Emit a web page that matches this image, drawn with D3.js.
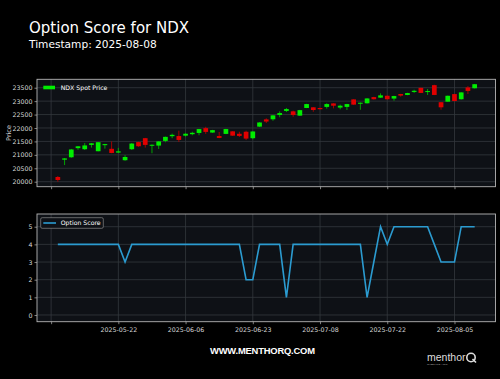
<!DOCTYPE html>
<html>
<head>
<meta charset="utf-8">
<script src="https://cdn.jsdelivr.net/npm/d3@7"></script>
<style>
html,body{margin:0;padding:0;background:#000;}
svg{display:block;font-family:"DejaVu Sans",sans-serif;}
</style>
</head>
<body>
<svg id="chart" width="500" height="379"></svg>
<script>
// ---- data ----
const dates = [
 "2025-05-09","2025-05-12","2025-05-13","2025-05-14","2025-05-15","2025-05-16","2025-05-19","2025-05-20","2025-05-21","2025-05-22",
 "2025-05-23","2025-05-27","2025-05-28","2025-05-29","2025-05-30","2025-06-02","2025-06-03","2025-06-04","2025-06-05","2025-06-06",
 "2025-06-09","2025-06-10","2025-06-11","2025-06-12","2025-06-13","2025-06-16","2025-06-17","2025-06-18","2025-06-20","2025-06-23",
 "2025-06-24","2025-06-25","2025-06-26","2025-06-27","2025-06-30","2025-07-01","2025-07-02","2025-07-03","2025-07-07","2025-07-08",
 "2025-07-09","2025-07-10","2025-07-11","2025-07-14","2025-07-15","2025-07-16","2025-07-17","2025-07-18","2025-07-21","2025-07-22",
 "2025-07-23","2025-07-24","2025-07-25","2025-07-28","2025-07-29","2025-07-30","2025-07-31","2025-08-01","2025-08-04","2025-08-05",
 "2025-08-06","2025-08-07","2025-08-08"];
const open  = [20175,20820,20910,21250,21210,21370,21135,21360,21225,21085,20800,21210,21475,21620,21345,21345,21520,21695,21700,21715,
 21770,21815,21995,21830,21700,21780,21875,21785,21860,21620,22050,22320,22325,22485,22635,22620,22460,22745,22770,22745,
 22785,22915,22760,22785,23065,22905,22920,23150,23130,23200,23095,23265,23230,23342,23495,23342,23595,22960,22980,23262,
 23070,23510,23480];
const high  = [20212,20880,21220,21325,21440,21440,21480,21410,21500,21260,20990,21440,21490,21630,21390,21510,21680,21790,21900,21810,
 21860,21965,22045,21930,21850,21970,21880,21860,21900,21880,22215,22360,22475,22620,22745,22645,22675,22900,22775,22750,
 22920,22920,22870,22900,23070,22950,23110,23160,23290,23210,23200,23270,23310,23425,23500,23450,23610,22965,23205,23270,
 23330,23560,23640];
const low   = [20000,20620,20890,21190,21180,21270,21130,21230,21060,21075,20780,21180,21300,21270,21060,21220,21470,21620,21480,21680,
 21730,21730,21780,21820,21620,21770,21705,21665,21550,21580,22040,22185,22270,22400,22595,22420,22450,22740,22605,22690,
 22720,22730,22695,22670,22860,22680,22910,23060,23120,23060,23015,23165,23220,23305,23300,23230,23225,22680,22975,22990,
 23060,23265,23470];
const close = [20063,20867,21200,21318,21350,21430,21470,21400,21070,21130,20920,21420,21320,21370,21375,21500,21670,21745,21555,21785,
 21820,21960,21855,21920,21630,21960,21715,21705,21605,21870,22205,22240,22470,22555,22705,22485,22665,22890,22670,22700,
 22890,22830,22830,22890,22870,22940,23100,23070,23215,23070,23190,23205,23300,23385,23305,23375,23230,22770,23200,23005,
 23325,23380,23630];
const optionScore = [4,4,4,4,4,4,4,4,4,4, 3, 4,4,4,4,4,4,4,4,4,4,4,4,4,4,4,4,4, 2,2, 4,4,4,4, 1,
 4,4,4,4,4,4,4,4,4,4,4, 1,3,5,4, 5,5,5,5,5,5, 4, 3,3,3, 5,5,5];
const xTickIdx = [-1,9,19,29,39,49,59];
const priceTicks = [20000,20500,21000,21500,22000,22500,23000,23500];
const scoreTicks = [0,1,2,3,4,5];

// ---- layout ----
const svg = d3.select("#chart");
svg.append("rect").attr("width",500).attr("height",379).attr("fill","#000");
const L = 37, R = 495.5;
const top1 = 79.3, bot1 = 186.7, top2 = 214, bot2 = 321.7;
const axBg = "#0e1116", gridC = "#34383e", spineC = "#b5b5b5", textC = "#d8d8d8";

const x = d3.scaleLinear().domain([-3.1, 65.1]).range([L, R]);
const yP = d3.scaleLinear().domain([19814, 23813]).range([bot1, top1]);
const yS = d3.scaleLinear().domain([-0.38, 5.72]).range([bot2, top2]);
const tickLabel = i => (i >= 0 && i < dates.length) ? dates[i] : "";

svg.append("text").attr("x",29).attr("y",32.5).attr("fill","#fff")
  .attr("font-size",15).text("Option Score for NDX");
svg.append("text").attr("x",29).attr("y",48.3).attr("fill","#fff")
  .attr("font-size",10.6).text("Timestamp: 2025-08-08");

function panel(top, bot, yScale, yTicks, showXLabels){
  const g = svg.append("g");
  g.append("rect").attr("x",L).attr("y",top).attr("width",R-L).attr("height",bot-top).attr("fill",axBg);
  // grid
  g.append("g").selectAll("line").data(yTicks).join("line")
    .attr("x1",L).attr("x2",R).attr("y1",d=>yScale(d)).attr("y2",d=>yScale(d))
    .attr("stroke",gridC).attr("stroke-width",0.8);
  g.append("g").selectAll("line").data(xTickIdx).join("line")
    .attr("y1",top).attr("y2",bot).attr("x1",d=>x(d)).attr("x2",d=>x(d))
    .attr("stroke",gridC).attr("stroke-width",0.8);
  // axes
  const ya = g.append("g").attr("transform",`translate(${L},0)`)
    .call(d3.axisLeft(yScale).tickValues(yTicks).tickSize(2.5).tickPadding(2).tickFormat(d3.format("d")));
  const xa = g.append("g").attr("transform",`translate(0,${bot})`)
    .call(d3.axisBottom(x).tickValues(xTickIdx).tickSize(2.5).tickPadding(3.5)
      .tickFormat(showXLabels ? tickLabel : () => ""));
  [ya,xa].forEach(a=>{
    a.select(".domain").remove();
    a.selectAll("line").attr("stroke",spineC).attr("stroke-width",0.7);
    a.selectAll("text").attr("fill",textC).attr("font-size",6.3).attr("font-family","DejaVu Sans");
  });
  g.append("rect").attr("x",L).attr("y",top).attr("width",R-L).attr("height",bot-top)
    .attr("fill","none").attr("stroke",spineC).attr("stroke-width",0.9);
  return g;
}

// ---- top panel: candles ----
const g1 = panel(top1, bot1, yP, priceTicks, false);
const candles = dates.map((d,i)=>({i, o:open[i], h:high[i], l:low[i], c:close[i]}));
const up = "#00ee00", down = "#e00000";
const cg = g1.append("g");
cg.selectAll("line.wick").data(candles).join("line").attr("class","wick")
  .attr("x1",d=>x(d.i)).attr("x2",d=>x(d.i)).attr("y1",d=>yP(d.h)).attr("y2",d=>yP(d.l))
  .attr("stroke",d=>d.c>=d.o?"#00b000":"#b00000").attr("stroke-width",0.9);
const bw = (x(1)-x(0))*0.7;
cg.selectAll("rect.body").data(candles).join("rect").attr("class","body")
  .attr("x",d=>x(d.i)-bw/2).attr("width",bw)
  .attr("y",d=>yP(Math.max(d.o,d.c)))
  .attr("height",d=>Math.max(1,Math.abs(yP(d.o)-yP(d.c))))
  .attr("fill",d=>d.c>=d.o?up:down);
// legend
g1.append("rect").attr("x",43.3).attr("y",85.7).attr("width",11.7).attr("height",3.6).attr("fill",up);
g1.append("text").attr("x",60.7).attr("y",89.8).attr("fill","#fff").attr("font-size",6.2).text("NDX Spot Price");
g1.append("text").attr("transform",`translate(10.5,${(top1+bot1)/2}) rotate(-90)`)
  .attr("text-anchor","middle").attr("fill",textC).attr("font-size",6.5).text("Price");

// ---- bottom panel: score ----
const g2 = panel(top2, bot2, yS, scoreTicks, true);
g2.append("path").datum(optionScore)
  .attr("d", d3.line().x((d,i)=>x(i)).y(d=>yS(d)))
  .attr("fill","none").attr("stroke","#2b9bd0").attr("stroke-width",1.6).attr("stroke-linejoin","miter");
g2.append("rect").attr("x",40.7).attr("y",217.7).attr("width",62.6).attr("height",10.6).attr("rx",1.5)
  .attr("fill",axBg).attr("stroke","#8a8a8a").attr("stroke-width",0.7);
g2.append("line").attr("x1",43.3).attr("x2",56).attr("y1",223).attr("y2",223)
  .attr("stroke","#2b9bd0").attr("stroke-width",1.6);
g2.append("text").attr("x",60.7).attr("y",225.2).attr("fill","#fff").attr("font-size",6.2).text("Option Score");

// ---- footer ----
svg.append("text").attr("x",210).attr("y",354).attr("fill","#fff").attr("font-weight","bold")
  .attr("font-family","Liberation Sans, Arial, sans-serif").attr("font-size",9.4)
  .attr("textLength",105).text("WWW.MENTHORQ.COM");
svg.append("text").attr("x",427).attr("y",361).attr("fill","#ddd")
  .attr("font-family","Liberation Sans, Arial, sans-serif").attr("font-size",10.5).text("menthor");
svg.append("circle").attr("cx",471).attr("cy",357.5).attr("r",4.2).attr("fill","none").attr("stroke","#ddd").attr("stroke-width",1.6);
svg.append("line").attr("x1",472.5).attr("y1",359).attr("x2",476).attr("y2",362.5).attr("stroke","#ddd").attr("stroke-width",1.6);
svg.append("text").attr("x",427).attr("y",364.6).attr("fill","#aaa")
  .attr("font-family","Liberation Sans, Arial, sans-serif").attr("font-size",2.2).text("INVEST LIKE A PRO");
</script>
</body>
</html>
